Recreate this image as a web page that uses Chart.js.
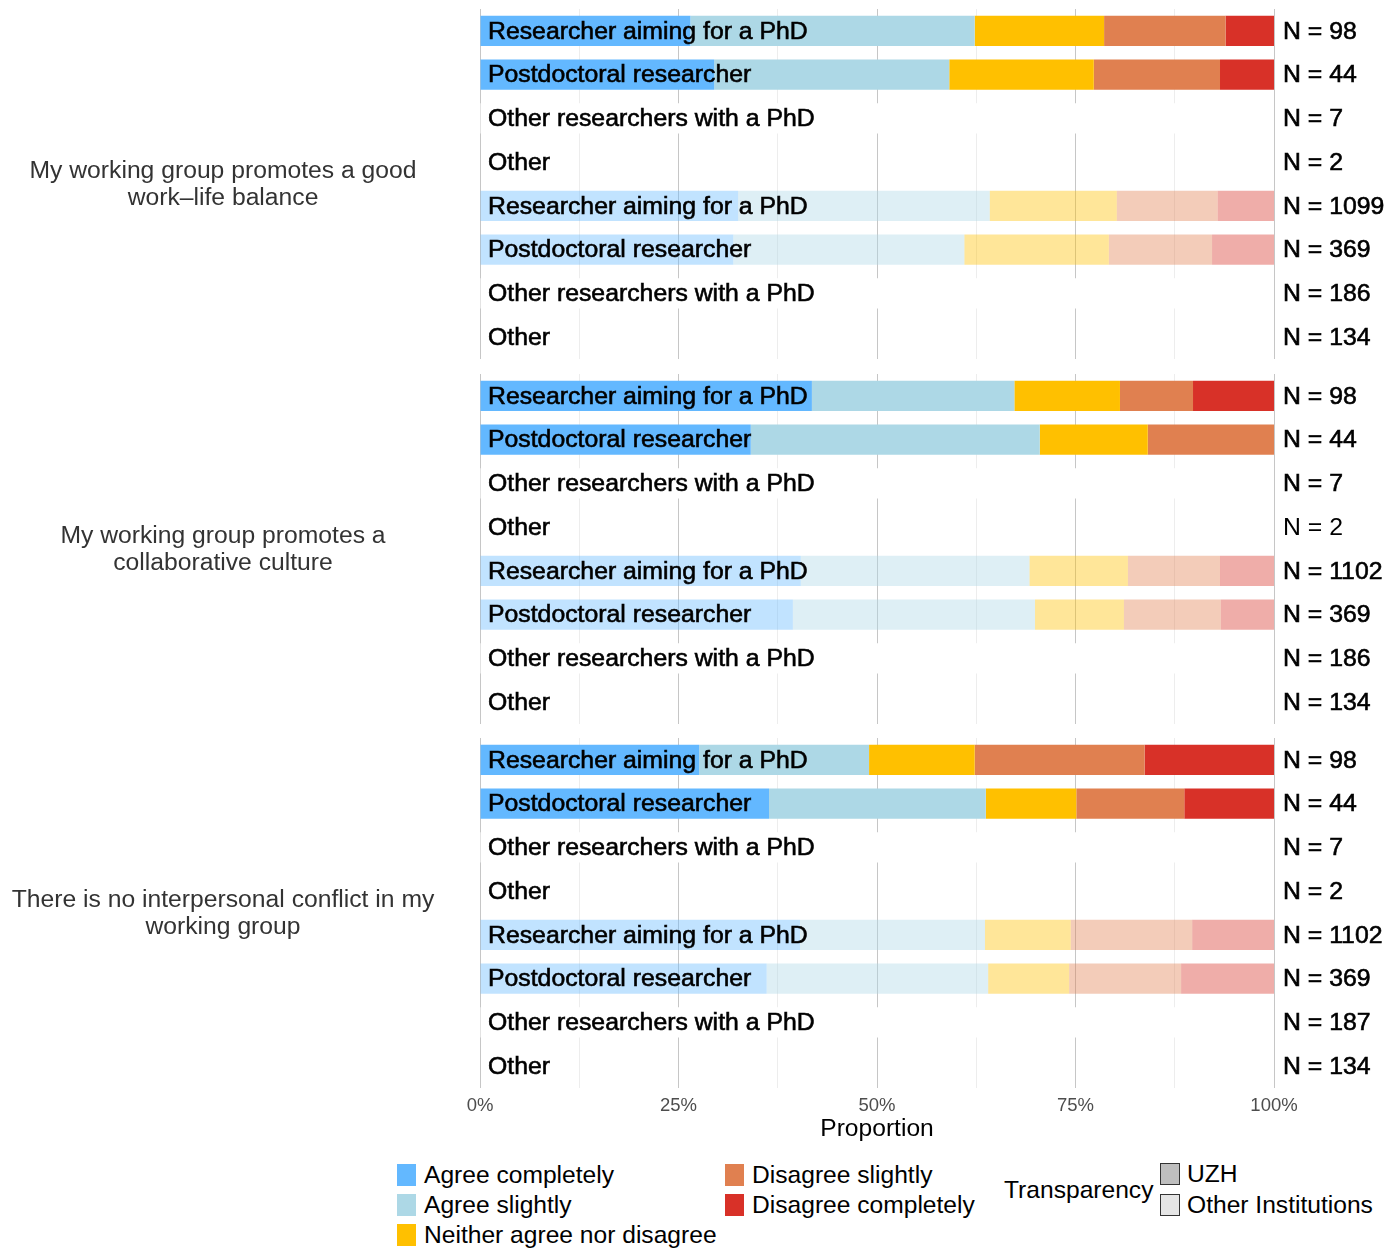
<!DOCTYPE html>
<html>
<head>
<meta charset="utf-8">
<script src="https://cdn.jsdelivr.net/npm/chart.js@4/dist/chart.umd.min.js"></script>
<style>
  body { margin: 0; background: #fff; width: 1387px; height: 1248px; position: relative; overflow: hidden;
         font-family: "Liberation Sans", Arial, sans-serif; }
  canvas { position: absolute; left: 0; }
  .key { position: absolute; font-size: 24.6px; color: #000; line-height: 30px; white-space: nowrap; }
  .sw { position: absolute; width: 19px; height: 22px; }
  .tk { position: absolute; width: 18px; height: 20px; border: 1.5px solid #333; }
</style>
</head>
<body>
<canvas id="p0" width="1387" height="350" style="top:9px"></canvas>
<canvas id="p1" width="1387" height="350" style="top:374px"></canvas>
<canvas id="p2" width="1387" height="406" style="top:738px"></canvas>
<div id="legend"></div>

<script>
// lignes de chaque panneau
const rowLabels = ['Researcher aiming for a PhD', 'Postdoctoral researcher', 'Other researchers with a PhD', 'Other',
                   'Researcher aiming for a PhD', 'Postdoctoral researcher', 'Other researchers with a PhD', 'Other'];
const questions = ['My working group promotes a good\nwork\u2013life balance',
                   'My working group promotes a\ncollaborative culture',
                   'There is no interpersonal conflict in my\nworking group'];
const responses = ['Agree completely', 'Agree slightly', 'Neither agree nor disagree', 'Disagree slightly', 'Disagree completely'];
const respColors = ['#63B8FF', '#ADD8E6', '#FFC000', '#E08050', '#D83128'];
const transparency = ['UZH', 'Other Institutions'];

const nWorkLife  = [98, 44, 7, 2, 1099, 369, 186, 134];
const nCollab    = [98, 44, 7, 2, 1102, 369, 186, 134];
const nConflict  = [98, 44, 7, 2, 1102, 369, 187, 134];

// pourcentages, une ligne par réponse (même ordre que responses)
const pctWorkLife = [
  [26.5, 29.5, 0, 0, 32.5, 31.9, 0, 0],
  [35.8, 29.6, 0, 0, 31.7, 29.1, 0, 0],
  [16.3, 18.2, 0, 0, 16.0, 18.2, 0, 0],
  [15.3, 15.9, 0, 0, 12.7, 13.0, 0, 0],
  [ 6.1,  6.8, 0, 0,  7.1,  7.8, 0, 0]
];
const pctCollab = [
  [41.8, 34.1, 0, 0, 40.4, 39.4, 0, 0],
  [25.5, 36.4, 0, 0, 28.8, 30.5, 0, 0],
  [13.3, 13.6, 0, 0, 12.4, 11.2, 0, 0],
  [ 9.2, 15.9, 0, 0, 11.6, 12.2, 0, 0],
  [10.2,  0.0, 0, 0,  6.8,  6.7, 0, 0]
];
const pctConflict = [
  [27.6, 36.4, 0, 0, 40.3, 36.1, 0, 0],
  [21.4, 27.3, 0, 0, 23.3, 27.9, 0, 0],
  [13.3, 11.4, 0, 0, 10.8, 10.2, 0, 0],
  [21.4, 13.6, 0, 0, 15.3, 14.1, 0, 0],
  [16.3, 11.3, 0, 0, 10.3, 11.7, 0, 0]
];
// barres blanches sur les lignes "Other researchers with a PhD"
const blankRows = [0, 0, 100, 0, 0, 0, 100, 0];

const panels = [
  { pct: pctWorkLife, n: nWorkLife, q: questions[0] },
  { pct: pctCollab,   n: nCollab,   q: questions[1] },
  { pct: pctConflict, n: nConflict, q: questions[2] }
];

const FONT = '"Liberation Sans", Arial, sans-serif';
const ALPHA_OTHER = 0.4;

function fade(hex, a) {
  const r = parseInt(hex.slice(1, 3), 16), g = parseInt(hex.slice(3, 5), 16), b = parseInt(hex.slice(5, 7), 16);
  return `rgba(${r}, ${g}, ${b}, ${a})`;
}

// textes dans les barres, N à droite, question à gauche
const rowText = {
  id: 'rowText',
  afterDatasetsDraw(chart, args, opts) {
    const { ctx, chartArea, scales: { y } } = chart;
    ctx.save();
    ctx.font = '24.8px ' + FONT;
    ctx.textBaseline = 'middle';
    ctx.fillStyle = '#000';
    ctx.strokeStyle = '#000';
    rowLabels.forEach((lab, i) => {
      const yy = y.getPixelForValue(i) + 1;
      ctx.lineWidth = 0.6;
      ctx.fillText(lab, chartArea.left + 8, yy);
      ctx.strokeText(lab, chartArea.left + 8, yy);
      const txt = 'N = ' + opts.counts[i];
      ctx.fillText(txt, chartArea.right + 9, yy);
      if (!(opts.thin === i)) ctx.strokeText(txt, chartArea.right + 9, yy);
    });
    ctx.font = '24.7px ' + FONT;
    ctx.fillStyle = '#333';
    ctx.textAlign = 'center';
    const lines = opts.question.split('\n');
    const mid = (chartArea.top + chartArea.bottom) / 2;
    lines.forEach((l, k) => ctx.fillText(l, 223, mid + 1 + (k - (lines.length - 1) / 2) * 27));
    ctx.restore();
  }
};

panels.forEach((p, k) => {
  const last = k === panels.length - 1;
  const datasets = [{
    label: 'blank', data: blankRows, backgroundColor: '#fff',
    barPercentage: 0.69, categoryPercentage: 1
  }];
  responses.forEach((r, j) => {
    datasets.push({
      label: r,
      data: p.pct[j],
      backgroundColor: ctx => ctx.dataIndex < 4 ? respColors[j] : fade(respColors[j], ALPHA_OTHER),
      barPercentage: 0.69,
      categoryPercentage: 1
    });
  });

  new Chart(document.getElementById('p' + k), {
    type: 'bar',
    data: { labels: rowLabels.map((l, i) => i), datasets },
    options: {
      indexAxis: 'y',
      responsive: false,
      animation: false,
      layout: { padding: { left: 480, right: 113, top: 0, bottom: 0 } },
      plugins: {
        legend: { display: false },
        tooltip: { enabled: false },
        rowText: { counts: p.n, question: p.q, thin: k === 1 ? 3 : -1 }
      },
      scales: {
        y: { stacked: true, display: false },
        x: {
          stacked: true,
          min: 0, max: 100,
          afterFit: s => { s.height = last ? 56 : 0; },
          border: { display: false },
          grid: {
            drawTicks: false,
            color: c => (c.tick && c.tick.value % 25 === 0) ? '#C6C6C6' : '#EDEDED',
            lineWidth: 1
          },
          ticks: {
            display: last,
            stepSize: 12.5,
            autoSkip: false,
            maxRotation: 0,
            padding: 7,
            color: '#4D4D4D',
            font: { family: FONT, size: 18.5 },
            callback: v => v % 25 === 0 ? v + '%' : ''
          },
          title: {
            display: last,
            text: 'Proportion',
            color: '#000',
            padding: { top: 0, bottom: 0 },
            font: { family: FONT, size: 24.6 }
          }
        }
      }
    },
    plugins: [rowText]
  });
});

// légende en bas
const legend = document.getElementById('legend');
const colPos = [[397, 1175], [397, 1205], [397, 1235], [725, 1175], [725, 1205]];
responses.forEach((r, j) => {
  const [x, yc] = colPos[j];
  legend.insertAdjacentHTML('beforeend',
    `<div class="sw" style="left:${x}px;top:${yc - 11}px;background:${respColors[j]}"></div>` +
    `<div class="key" style="left:${x + 27}px;top:${yc - 15}px">${r}</div>`);
});
legend.insertAdjacentHTML('beforeend', `<div class="key" style="left:1004px;top:1175px">Transparency</div>`);
transparency.forEach((t, j) => {
  const yc = 1174 + j * 31;
  const fill = j === 0 ? '#BEBEBE' : fade('#BEBEBE', ALPHA_OTHER);
  legend.insertAdjacentHTML('beforeend',
    `<div class="tk" style="left:1160px;top:${yc - 11}px;background:${fill}"></div>` +
    `<div class="key" style="left:1187px;top:${yc - 15}px">${t}</div>`);
});
</script>
</body>
</html>
